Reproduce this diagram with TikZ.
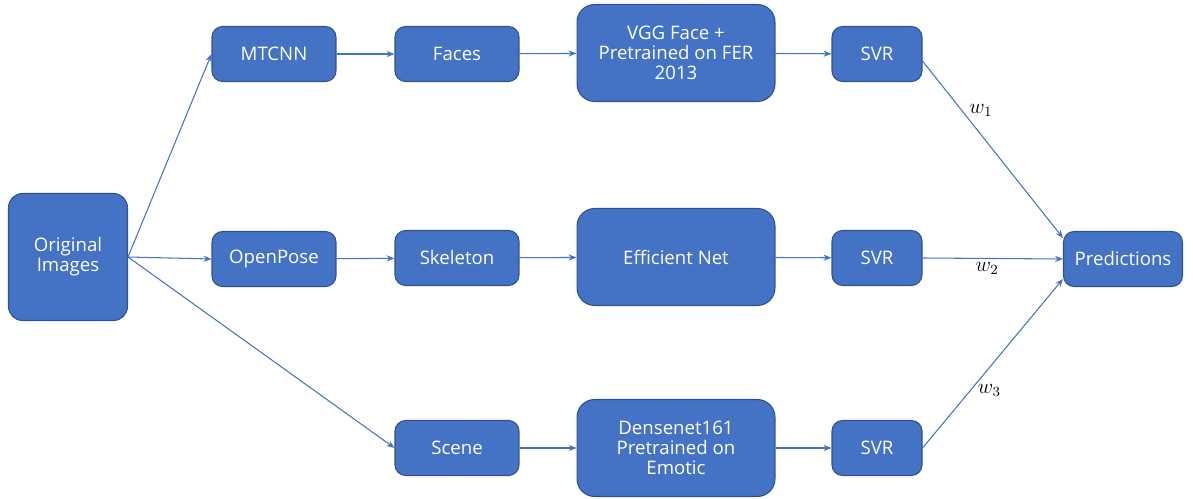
\documentclass[tikz,border=0pt]{standalone}
\usepackage{fontspec}
\setmainfont{Open Sans}
\usetikzlibrary{arrows.meta}
\definecolor{boxblue}{HTML}{4472C4}
\definecolor{boxedge}{HTML}{2F528F}
\tikzset{
  blk/.style={draw=boxedge, fill=boxblue, text=white, align=center,
    line width=0.6pt, inner sep=1pt,
    font=\fontsize{10.6}{11.4}\selectfont},
  small/.style={blk, rounded corners=6pt, minimum width=2.48cm, minimum height=1.1cm},
  big/.style={blk, rounded corners=10pt, minimum width=3.96cm, minimum height=1.94cm},
  svrbox/.style={blk, rounded corners=6pt, minimum width=1.8cm, minimum height=1.1cm},
  link/.style={draw=boxblue, line width=0.6pt, -{Stealth[length=4.5pt,width=3.5pt]}},
  wlabel/.style={font=\fontsize{12}{13}\selectfont, inner sep=2pt}
}
\begin{document}
\begin{tikzpicture}[x=0.02cm, y=-0.02cm]
      \useasboundingbox (0,0) rectangle (1193,499);
      \draw
        (68,257) node[blk, rounded corners=8pt, minimum width=2.38cm, minimum height=2.54cm] (orig){Original\\Images}
        (274,54) node[small] (mtcnn){MTCNN}
        (457,54) node[small] (faces){Faces}
        (676,53) node[big] (vgg){VGG Face +\\Pretrained on FER\\2013}
        (877,54) node[svrbox] (svr1){SVR}
        (274,259) node[small] (openpose){OpenPose}
        (457,258) node[small] (skeleton){Skeleton}
        (676,257) node[big] (effnet){Efficient Net}
        (877,258) node[svrbox] (svr2){SVR}
        (457,448) node[small] (scene){Scene}
        (676,448) node[big] (densenet){Densenet161\\Pretrained on\\Emotic}
        (877,448) node[svrbox] (svr3){SVR}
        (1123,259) node[blk, rounded corners=6pt, minimum width=2.38cm, minimum height=1.1cm] (pred){Predictions};
      \begin{scope}[link]
        \draw (orig.east) to (mtcnn.west);
        \draw (orig.east) to (openpose.west);
        \draw (orig.east) to (scene.west);
        \draw (mtcnn) to (faces);
        \draw (faces) to (vgg);
        \draw (vgg) to (svr1);
        \draw (openpose) to (skeleton);
        \draw (skeleton) to (effnet);
        \draw (effnet) to (svr2);
        \draw (scene) to (densenet);
        \draw (densenet) to (svr3);
        \draw ([yshift=-0.14cm]svr1.east) to node[wlabel, pos=.28, right, xshift=2pt] {$w_1$} ([yshift=0.42cm]pred.west);
        \draw (svr2.east) to node[wlabel, pos=.46, below] {$w_2$} (pred.west);
        \draw (svr3.east) to node[wlabel, pos=.34, right, xshift=2pt] {$w_3$} ([yshift=-0.4cm]pred.west);
      \end{scope}
    \end{tikzpicture}
\end{document}
